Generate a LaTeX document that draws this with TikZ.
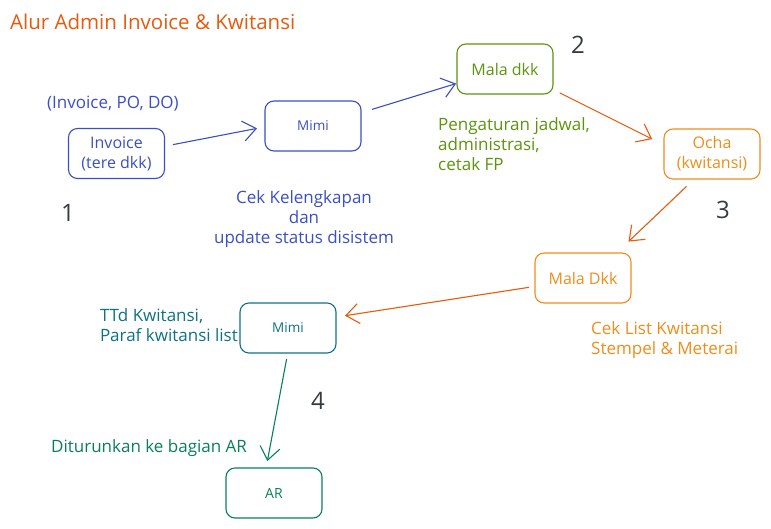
\documentclass[tikz,border=0pt]{standalone}
\usepackage{fontspec}
\setmainfont{Open Sans}
\usetikzlibrary{arrows.meta}
\definecolor{cblue}{HTML}{3B4FC4}
\definecolor{cgreen}{HTML}{5C940D}
\definecolor{cred}{HTML}{E8590C}
\definecolor{corange}{HTML}{F08C1A}
\definecolor{cteal}{HTML}{0C7285}
\definecolor{cgreen2}{HTML}{087F5B}
\definecolor{cdark}{HTML}{343A40}
\tikzset{
  box/.style={draw, line width=1.1pt, rounded corners=9pt, minimum width=96pt, minimum height=50pt, inner sep=0pt, align=center, font=\fontsize{16}{20}\selectfont},
  smallbox/.style={box, font=\fontsize{13.5}{17}\selectfont},
  conn/.style={line width=1.1pt, -{Straight Barb[length=13pt,width=20pt,line width=1.1pt]}, shorten >=2pt, shorten <=2pt},
  lbl/.style={font=\fontsize{17}{20}\selectfont, inner sep=0pt},
  num/.style={font=\fontsize{24}{24}\selectfont, text=cdark, inner sep=0pt}
}
\begin{document}
\begin{tikzpicture}[x=1pt,y=-1pt]
\useasboundingbox (0,0) rectangle (771,528);
\node[anchor=west, text=cred, font=\fontsize{20.5}{24}\selectfont, inner sep=0pt] (title) at (10,22) {Alur Admin Invoice \& Kwitansi};

\node[box, draw=cblue, text=cblue] (inv) at (116.5,153.5) {Invoice\\(tere dkk)};
\node[smallbox, draw=cblue, text=cblue] (mimi1) at (313,126) {Mimi};
\node[box, draw=cgreen, text=cgreen] (mala1) at (505,69) {Mala dkk};
\node[box, draw=corange, text=corange] (ocha) at (712,154) {Ocha\\(kwitansi)};
\node[box, draw=corange, text=corange] (mala2) at (583,278) {Mala Dkk};
\node[smallbox, draw=cteal, text=cteal] (mimi2) at (288,328) {Mimi};
\node[smallbox, draw=cgreen2, text=cgreen2, font=\fontsize{14}{17}\selectfont] (ar) at (274,493) {AR};

\node[lbl, anchor=west, text=cblue] (po) at (47,104) {(Invoice, PO, DO)};
\node[lbl, align=center, text=cblue] (cek) at (304,219) {Cek Kelengkapan\\dan\\update status disistem};
\node[lbl, align=left, anchor=north west, text=cgreen] (peng) at (438,117) {Pengaturan jadwal,\\administrasi,\\cetak FP};
\node[lbl, align=left, anchor=north west, text=corange] (ceklist) at (591,321) {Cek List Kwitansi\\Stempel \& Meterai};
\node[lbl, align=left, anchor=north east, text=cteal] (ttd) at (238,308) {TTd Kwitansi,\\Paraf kwitansi list};
\node[lbl, anchor=west, text=cgreen2] (turun) at (51,448) {Diturunkan ke bagian AR};

\node[num] (n1) at (68,213) {1};
\node[num] (n2) at (578,45) {2};
\node[num] (n3) at (723,210) {3};
\node[num] (n4) at (318,401) {4};

\coordinate (a1s) at (171,145); \coordinate (a1e) at (259,128);
\coordinate (a2s) at (370,110); \coordinate (a2e) at (458,83);
\coordinate (a3s) at (558,92);  \coordinate (a3e) at (654,140);
\coordinate (a4s) at (688,185); \coordinate (a4e) at (627,243);
\coordinate (a5s) at (531,287); \coordinate (a5e) at (343,316);
\coordinate (a6s) at (287,357); \coordinate (a6e) at (267,463);
\draw[conn, cblue] (a1s) -- (a1e);
\draw[conn, cblue] (a2s) -- (a2e);
\draw[conn, cred] (a3s) -- (a3e);
\draw[conn, cred] (a4s) -- (a4e);
\draw[conn, cred] (a5s) -- (a5e);
\draw[conn, cgreen2] (a6s) -- (a6e);
\end{tikzpicture}
\end{document}
